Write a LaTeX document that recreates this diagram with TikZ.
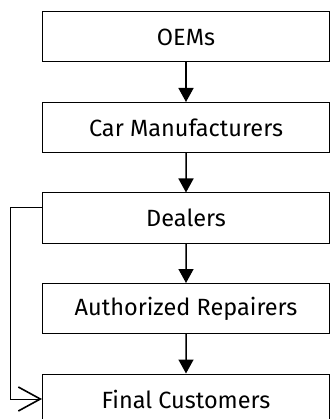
\documentclass[tikz,border=0pt]{standalone}
\usepackage{fontspec}
\setmainfont{Fira Sans}
\usetikzlibrary{arrows.meta}

\begin{document}
\begin{tikzpicture}[x=1pt, y=1pt,
  grow=south,
  level distance=90.5pt,
  every node/.style={rectangle, draw=black, line width=1pt, font=\fontsize{23.5}{28}\selectfont, align=center, minimum width=287pt, minimum height=50pt, inner sep=0pt},
  edge from parent/.style={draw, line width=1.5pt, -{Triangle[length=14pt,width=15pt]}},
]
\useasboundingbox (0,0) rectangle (330,-419);
\node (oems) at (186,-37) {OEMs}
  child {node (carmakers) {Car Manufacturers}
    child {node (dealers) {Dealers}
      child {node (repairers) {Authorized Repairers}
        child {node (customers) {Final Customers}}}}}
;
\draw[line width=1pt, -{Straight Barb[length=22pt,width=24pt,line width=1.6pt]}] ([yshift=10pt]dealers.west) -- ++(-32,0) |- (customers.west);
\end{tikzpicture}
\end{document}
